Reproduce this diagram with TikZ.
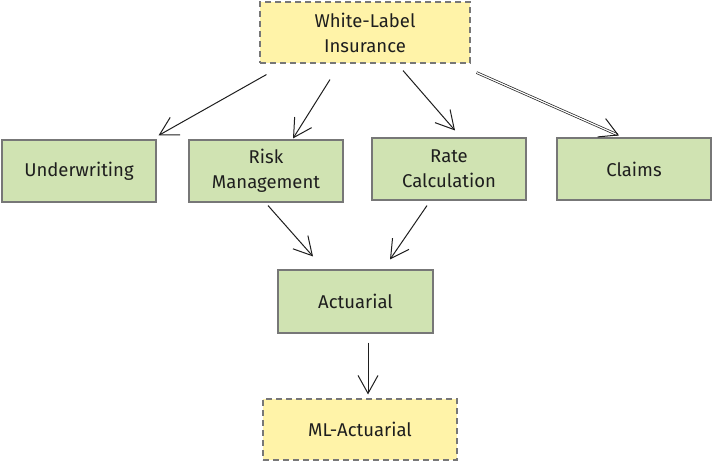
\documentclass[tikz,border=0pt]{standalone}
\usepackage{fontspec}
\setmainfont{Fira Sans}
\usetikzlibrary{arrows.meta}
\definecolor{gfill}{HTML}{D0E3B2}
\definecolor{yfill}{HTML}{FFF3A8}
\definecolor{edge}{HTML}{777777}
\definecolor{ink}{HTML}{1E1E1E}
\tikzset{
  gbox/.style={draw=edge, line width=1.1pt, fill=gfill, minimum width=154pt, minimum height=62pt, align=center, font=\fontsize{18.5}{25}\selectfont, text=ink, inner sep=0pt},
  ybox/.style={draw=edge, line width=1.1pt, dashed, dash pattern=on 6pt off 4pt, fill=yfill, align=center, font=\fontsize{18.5}{25}\selectfont, text=ink, inner sep=0pt},
  arr/.style={draw=ink, line width=1pt, -{Straight Barb[length=18pt,width=20pt,line width=1pt]}},
}
\begin{document}
\begin{tikzpicture}[x=1pt,y=-1pt]
\useasboundingbox (0,0) rectangle (714,465);
\node[ybox, minimum width=210pt, minimum height=61pt] (wl) at (365,32.5) {White-Label\\Insurance};
\node[gbox] (uw) at (79,171) {Underwriting};
\node[gbox] (rm) at (266,171) {Risk\\Management};
\node[gbox] (rc) at (449,169) {Rate\\Calculation};
\node[gbox] (cl) at (634,169) {Claims};
\node[gbox, minimum width=155pt, minimum height=63pt] (ac) at (355.5,301.5) {Actuarial};
\node[ybox, minimum width=194pt, minimum height=61pt] (ml) at (360,429.5) {ML-Actuarial};
\draw[arr] ([xshift=7pt,yshift=-11pt]wl.south west) -- ([xshift=2pt,yshift=4pt]uw.north east);
\draw[arr] ([xshift=-35pt,yshift=-16pt]wl.south) -- ([xshift=27pt,yshift=1pt]rm.north);
\draw[arr] ([xshift=38pt,yshift=-7pt]wl.south) -- ([xshift=6pt,yshift=7pt]rc.north);
\draw[arr, double=white, double distance=1.2pt, line width=0.7pt] ([xshift=6pt,yshift=-9pt]wl.south east) -- ([xshift=-15pt,yshift=2pt]cl.north);
\draw[arr] ([xshift=2pt,yshift=-3pt]rm.south) -- ([xshift=-42.5pt,yshift=13pt]ac.north);
\draw[arr] ([xshift=-22pt,yshift=-5pt]rc.south) -- ([xshift=34.5pt,yshift=10pt]ac.north);
\draw[arr] ([xshift=12.5pt,yshift=-9pt]ac.south) -- ([xshift=8pt,yshift=4pt]ml.north);
\end{tikzpicture}
\end{document}
